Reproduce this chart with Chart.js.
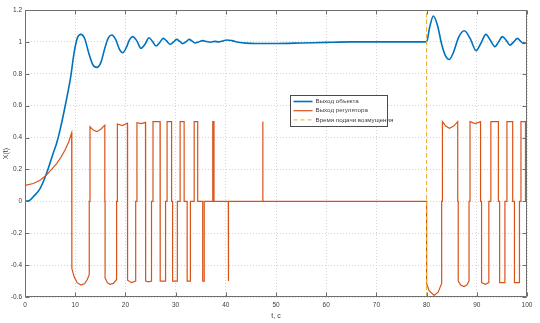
<!DOCTYPE html>
<html>
<head>
<meta charset="utf-8">
<script src="https://cdn.jsdelivr.net/npm/chart.js@4.4.1/dist/chart.umd.min.js"></script>
<style>
  html, body { margin: 0; padding: 0; background: #ffffff; }
  #wrap { width: 540px; height: 323px; position: relative; }
</style>
</head>
<body>
<div id="wrap"><canvas id="c"></canvas></div>
<script>
// Plant output X(t)
const objT = [0, 1, 1.66, 3, 4.3, 5.6, 6.3, 7, 7.97, 9.1, 9.76, 10.4, 11.15, 11.9, 12.7, 13.5, 14.3, 15.1, 15.9, 16.6,
  17.3, 18.1, 18.8, 19.45, 20.2, 20.8, 21.45, 22.3, 23.1, 23.9, 24.7, 25.4, 26.1, 26.8, 27.55, 28.2, 28.9, 29.55,
  30.2, 30.8, 31.4, 32.05, 32.7, 33.3, 33.9, 34.6, 35.4, 36.2, 37.0, 37.8, 38.6, 39.4, 40.2, 41.2, 42.5, 44, 46,
  50, 55, 60, 65, 70, 75, 80, 80.6, 81.35, 82.2, 83.0, 83.8, 84.5, 85.3, 86.4, 87.5, 88.7, 89.85, 90.8, 91.8,
  92.7, 93.6, 94.35, 95.1, 95.85, 96.6, 97.35, 98.1, 98.7, 99.3, 100];
const objX = [0, 0.008, 0.029, 0.08, 0.176, 0.3, 0.364, 0.45, 0.593, 0.78, 0.928, 1.022, 1.047, 1.02, 0.93, 0.858, 0.84, 0.87, 0.96, 1.025,
  1.043, 1.012, 0.955, 0.932, 0.965, 1.013, 1.033, 1.005, 0.96, 0.985, 1.026, 1.003, 0.974, 0.995, 1.022, 1.006, 0.985, 0.998,
  1.016, 1.004, 0.989, 1.0, 1.016, 1.005, 0.993, 1.0, 1.008, 1.002, 0.998, 1.003, 1.0, 1.006, 1.012, 1.008, 0.998, 0.992, 0.99,
  0.99, 0.993, 0.997, 1.0, 1.0, 1.0, 1.0, 1.09, 1.162, 1.1, 0.985, 0.91, 0.89, 0.93, 1.03, 1.07, 1.02, 0.945, 0.99, 1.047,
  1.01, 0.97, 1.0, 1.033, 1.01, 0.98, 1.0, 1.022, 1.005, 0.99, 0.997];

// Controller output (relay switching through zero)
const ctlT = [0, 0, 1.66, 3, 4.3, 5.3, 6.3, 7.2, 7.97, 8.7, 9.3,
  9.3, 9.35, 9.35, 9.8, 10.4, 11.15, 11.9, 12.4, 12.8,
  12.8, 12.95, 12.95, 13.6, 14.3, 15.1, 15.9,
  15.9, 15.95, 15.95, 16.4, 16.9, 17.6, 18.25,
  18.25, 18.4, 18.4, 19.4, 20.4,
  20.4, 20.45, 20.45, 21.2, 22.05,
  22.05, 22.3, 22.3, 23.15, 24.0,
  24.0, 24.05, 24.05, 24.6, 25.2,
  25.2, 25.5, 25.5, 26.9,
  26.9, 26.95, 26.95, 28.0,
  28.0, 28.3, 28.3, 29.2,
  29.2, 29.4, 29.4, 30.35,
  30.35, 30.9, 30.9, 31.7,
  31.7, 32.3, 32.3, 32.95,
  32.95, 33.7, 33.7, 34.4,
  34.4, 35.4, 35.4, 35.7,
  35.7, 37.4, 37.4, 37.65,
  37.65, 40.5, 40.5, 40.55,
  40.55, 47.35, 47.35, 47.4,
  47.4, 80, 80, 80.5, 81.5, 82.3, 83.0,
  83.0, 83.15, 83.15, 83.8, 84.55, 85.4, 86.2,
  86.2, 86.3, 86.3, 86.8, 87.45, 88.0, 88.45,
  88.45, 88.65, 88.65, 89.7, 90.75,
  90.75, 90.95, 90.95, 91.7, 92.4,
  92.4, 92.8, 92.8, 94.3,
  94.3, 94.55, 94.55, 95.6,
  95.6, 96.0, 96.0, 97.15,
  97.15, 97.5, 97.5, 98.5,
  98.5, 98.8, 98.8, 99.7,
  99.7, 100];
const ctlU = [0, 0.1, 0.112, 0.132, 0.166, 0.2, 0.237, 0.278, 0.322, 0.372, 0.43,
  0, 0, -0.42, -0.475, -0.51, -0.525, -0.515, -0.49, -0.46,
  0, 0, 0.468, 0.447, 0.437, 0.452, 0.478,
  0, 0, -0.48, -0.51, -0.52, -0.515, -0.49,
  0, 0, 0.485, 0.475, 0.49,
  0, 0, -0.495, -0.51, -0.5,
  0, 0, 0.493, 0.487, 0.495,
  0, 0, -0.5, -0.505, -0.5,
  0, 0, 0.5, 0.5,
  0, 0, -0.5, -0.5,
  0, 0, 0.5, 0.5,
  0, 0, -0.5, -0.5,
  0, 0, 0.5, 0.5,
  0, 0, -0.5, -0.5,
  0, 0, 0.5, 0.5,
  0, 0, -0.5, -0.5,
  0, 0, 0.5, 0.5,
  0, 0, -0.5, -0.5,
  0, 0, 0.5, 0.5,
  0, 0, -0.515, -0.56, -0.59, -0.57, -0.515,
  0, 0, 0.5, 0.472, 0.458, 0.472, 0.5,
  0, 0, -0.5, -0.525, -0.535, -0.525, -0.5,
  0, 0, 0.5, 0.488, 0.5,
  0, 0, -0.51, -0.52, -0.51,
  0, 0, 0.5, 0.5,
  0, 0, -0.51, -0.51,
  0, 0, 0.5, 0.5,
  0, 0, -0.51, -0.51,
  0, 0, 0.5, 0.5,
  0, 0];

// Disturbance instant
const disturbT = [80, 80];
const disturbY = [-0.6, 1.2];

const seriesNames = ['Выход объекта', 'Выход регулятора', 'Время подачи возмущения'];
const xTicks = [0, 10, 20, 30, 40, 50, 60, 70, 80, 90, 100];
const xTickLabels = ['0', '10', '20', '30', '40', '50', '60', '70', '80', '90', '100'];
const yTicks = [-0.6, -0.4, -0.2, 0, 0.2, 0.4, 0.6, 0.8, 1, 1.2];
const yTickLabels = ['-0.6', '-0.4', '-0.2', '0', '0.2', '0.4', '0.6', '0.8', '1', '1.2'];
const xTitle = 't, c';
const yTitle = 'X(t)';

const pts = (xs, ys) => xs.map((v, i) => ({ x: v, y: ys[i] }));

const FONT = '"Liberation Sans", Arial, Helvetica, sans-serif';
const TEXT = '#3c3c3c';
const AXIS = '#6e6e6e';
const GRID = '#d4d4d4';

// Box, inward tick marks and legend drawn over the plot area
const axesBox = {
  id: 'axesBox',
  afterDraw(chart) {
    const { ctx, chartArea: a, scales: { x, y } } = chart;
    ctx.save();
    ctx.strokeStyle = AXIS;
    ctx.lineWidth = 1;
    ctx.beginPath();
    const L = Math.round(a.left) + 0.5, R = Math.round(a.right) - 0.5;
    const T = Math.round(a.top) + 0.5, B = Math.round(a.bottom) - 0.5;
    ctx.rect(L, T, R - L, B - T);
    xTicks.forEach(v => {
      const px = Math.round(x.getPixelForValue(v)) + 0.5;
      ctx.moveTo(px, B); ctx.lineTo(px, B - 4);
      ctx.moveTo(px, T); ctx.lineTo(px, T + 4);
    });
    yTicks.forEach(v => {
      const py = Math.round(y.getPixelForValue(v)) + 0.5;
      ctx.moveTo(L, py); ctx.lineTo(L + 4, py);
      ctx.moveTo(R, py); ctx.lineTo(R - 4, py);
    });
    ctx.stroke();

    // legend
    const lx = Math.round(a.left + (a.right - a.left) * 0.528) + 0.5;
    const ly = Math.round(a.top + (a.bottom - a.top) * 0.297) + 0.5;
    const lw = 97, lh = 31;
    ctx.fillStyle = '#ffffff';
    ctx.fillRect(lx, ly, lw, lh);
    ctx.strokeStyle = '#4a4a4a';
    ctx.strokeRect(lx, ly, lw, lh);
    ctx.font = '6.2px ' + FONT;
    ctx.textBaseline = 'middle';
    ctx.fillStyle = TEXT;
    chart.data.datasets.forEach((ds, i) => {
      const yy = ly + 6 + i * 9.2;
      ctx.save();
      ctx.strokeStyle = ds.borderColor;
      ctx.lineWidth = ds.borderWidth;
      ctx.setLineDash(ds.borderDash || []);
      ctx.beginPath();
      ctx.moveTo(lx + 3, yy); ctx.lineTo(lx + 22, yy);
      ctx.stroke();
      ctx.restore();
      ctx.fillText(ds.label, lx + 25, yy);
    });
    ctx.restore();
  }
};

new Chart(document.getElementById('c'), {
  type: 'line',
  data: {
    datasets: [
      {
        label: seriesNames[0], data: pts(objT, objX),
        borderColor: '#0072BD', borderWidth: 1.6, pointRadius: 0,
        cubicInterpolationMode: 'monotone', order: 2
      },
      {
        label: seriesNames[1], data: pts(ctlT, ctlU),
        borderColor: '#D95319', borderWidth: 1.2, pointRadius: 0,
        tension: 0, order: 1
      },
      {
        label: seriesNames[2], data: pts(disturbT, disturbY),
        borderColor: '#EDB120', borderWidth: 1, borderDash: [4, 3], pointRadius: 0,
        tension: 0, order: 0
      }
    ]
  },
  options: {
    responsive: true,
    maintainAspectRatio: false,
    animation: false,
    events: [],
    layout: { padding: { top: 10, right: 13, left: 0, bottom: 0 } },
    plugins: { legend: { display: false }, tooltip: { enabled: false } },
    scales: {
      x: {
        type: 'linear', min: 0, max: 100,
        afterBuildTicks: s => { s.ticks = xTicks.map(v => ({ value: v })); },
        afterFit: s => { s.height = 26; },
        ticks: {
          autoSkip: false, maxRotation: 0, padding: 4,
          color: TEXT, font: { family: FONT, size: 6.5 },
          callback: (v, i) => xTickLabels[i]
        },
        grid: { color: GRID, lineWidth: 1, drawTicks: false },
        border: { display: false, dash: [1, 2] },
        title: {
          display: true, text: xTitle, color: TEXT,
          font: { family: FONT, size: 7 }, padding: { top: 0, bottom: 3 }
        }
      },
      y: {
        type: 'linear', min: -0.6, max: 1.2,
        afterBuildTicks: s => { s.ticks = yTicks.map(v => ({ value: v })); },
        afterFit: s => { s.width = 25; },
        ticks: {
          autoSkip: false, padding: 3,
          color: TEXT, font: { family: FONT, size: 6.5 },
          callback: (v, i) => yTickLabels[i]
        },
        grid: { color: GRID, lineWidth: 1, drawTicks: false },
        border: { display: false, dash: [1, 2] },
        title: {
          display: true, text: yTitle, color: TEXT,
          font: { family: FONT, size: 7 }, padding: { top: 2, bottom: 0 }
        }
      }
    }
  },
  plugins: [axesBox]
});
</script>
</body>
</html>
